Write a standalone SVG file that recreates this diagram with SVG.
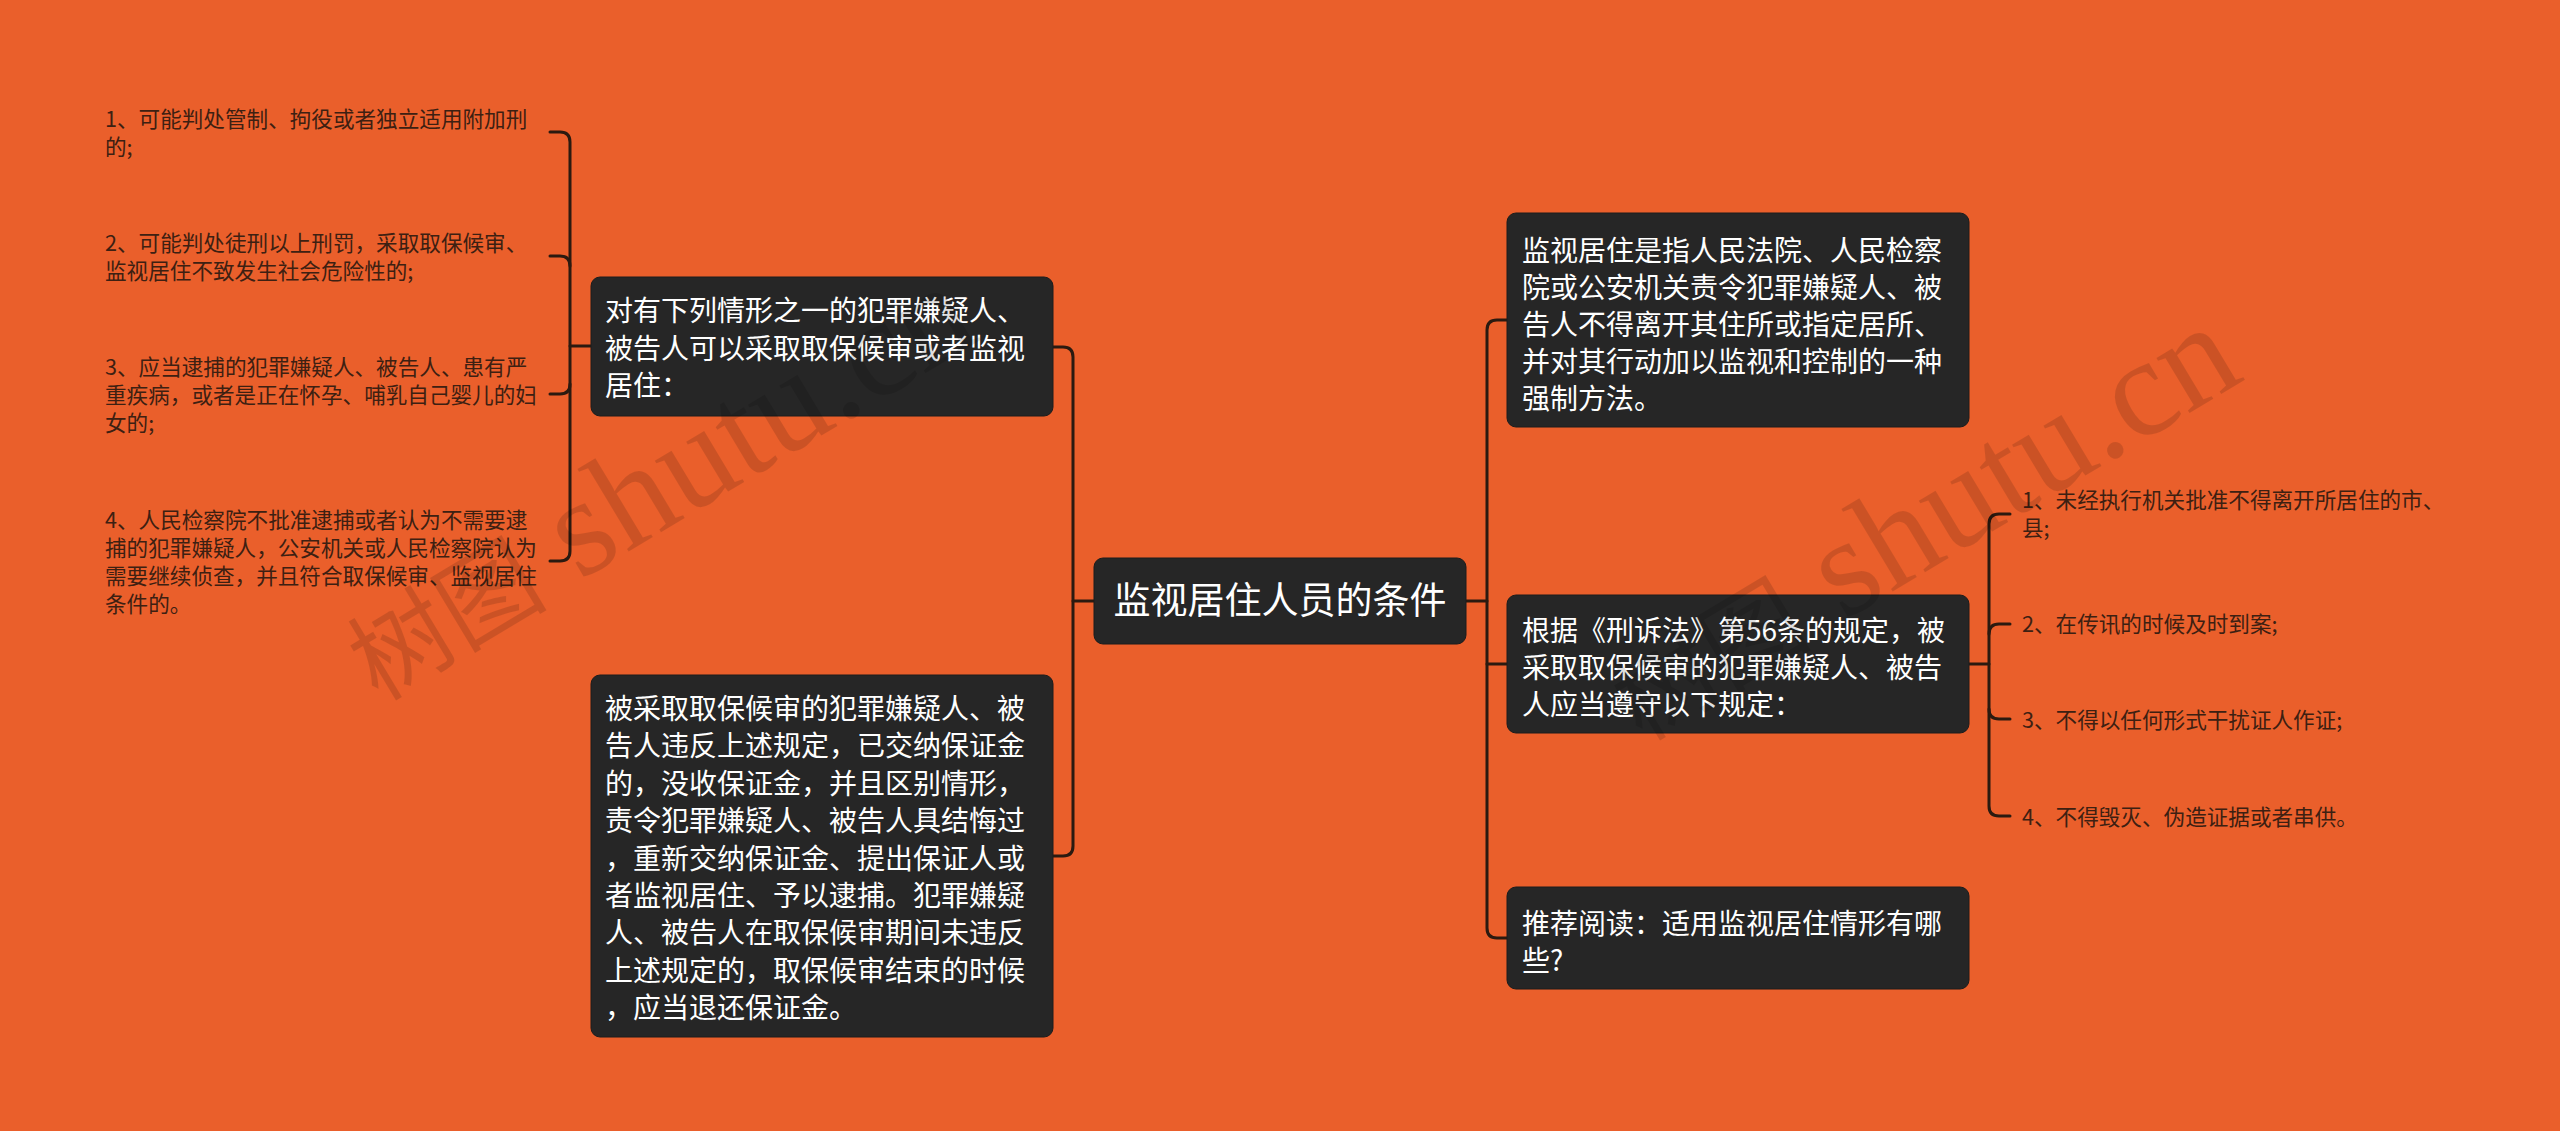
<svg xmlns="http://www.w3.org/2000/svg" width="2560" height="1131" viewBox="0 0 2560 1131">
<style>
.bg{fill:#EA5F2B}
.box{fill:#262626;stroke:#1c1c1c;stroke-width:1}
.nt{font-family:"Noto Sans CJK SC","Noto Sans",sans-serif;fill:#ffffff;font-size:28px}
.ct{font-family:"Noto Sans CJK SC","Noto Sans",sans-serif;fill:#ffffff;font-size:37px}
.lt{font-family:"Noto Sans CJK SC","Noto Sans",sans-serif;fill:#3d2012;font-size:21.6px}
.conn path{fill:none;stroke:#2b1a10;stroke-width:3;stroke-linecap:round}
.wm{font-family:"Liberation Serif","Noto Sans CJK SC",serif;fill:#000000;fill-opacity:0.13}
</style>
<rect class="bg" x="0" y="0" width="2560" height="1131"/>

<g id="connectors" class="conn">
  <path d="M1094,601 H1073"/>
  <path d="M1053,347 H1063 Q1073,347 1073,357 V846 Q1073,856 1063,856 H1053"/>
  <path d="M1466,601 H1487"/>
  <path d="M1507,320 H1497 Q1487,320 1487,330 V928 Q1487,938 1497,938 H1507"/>
  <path d="M1487,664 H1507"/>
  <path d="M591,346 H570"/>
  <path d="M550,132 H560 Q570,132 570,142 V551 Q570,561 560,561 H550"/>
  <path d="M550,256 H560 Q570,256 570,266"/>
  <path d="M550,394 H560 Q570,394 570,384"/>
  <path d="M1969,664 H1989"/>
  <path d="M2010,514 H1999 Q1989,514 1989,524 V806 Q1989,816 1999,816 H2010"/>
  <path d="M2010,624 H1999 Q1989,624 1989,634"/>
  <path d="M2010,719 H1999 Q1989,719 1989,709"/>
</g>

<g id="center">
  <rect class="box" x="1094" y="558" width="372" height="86" rx="9"/>
  <text class="ct" x="1280" y="614" text-anchor="middle">监视居住人员的条件</text>
</g>

<g id="left1">
  <rect class="box" x="591" y="277" width="462" height="139" rx="9"/>
  <text class="nt">
    <tspan x="605" y="321">对有下列情形之一的犯罪嫌疑人、</tspan>
    <tspan x="605" y="358.5">被告人可以采取取保候审或者监视</tspan>
    <tspan x="605" y="396">居住：</tspan>
  </text>
</g>

<g id="left2">
  <rect class="box" x="591" y="675" width="462" height="362" rx="9"/>
  <text class="nt">
    <tspan x="605" y="719">被采取取保候审的犯罪嫌疑人、被</tspan>
    <tspan x="605" y="756.4">告人违反上述规定，已交纳保证金</tspan>
    <tspan x="605" y="793.8">的，没收保证金，并且区别情形，</tspan>
    <tspan x="605" y="831.2">责令犯罪嫌疑人、被告人具结悔过</tspan>
    <tspan x="605" y="868.6">，重新交纳保证金、提出保证人或</tspan>
    <tspan x="605" y="906">者监视居住、予以逮捕。犯罪嫌疑</tspan>
    <tspan x="605" y="943.4">人、被告人在取保候审期间未违反</tspan>
    <tspan x="605" y="980.8">上述规定的，取保候审结束的时候</tspan>
    <tspan x="605" y="1018.2">，应当退还保证金。</tspan>
  </text>
</g>

<g id="leafL1">
  <text class="lt">
    <tspan x="105" y="127">1、可能判处管制、拘役或者独立适用附加刑</tspan>
    <tspan x="105" y="155">的;</tspan>
  </text>
</g>
<g id="leafL2">
  <text class="lt">
    <tspan x="105" y="251">2、可能判处徒刑以上刑罚，采取取保候审、</tspan>
    <tspan x="105" y="279">监视居住不致发生社会危险性的;</tspan>
  </text>
</g>
<g id="leafL3">
  <text class="lt">
    <tspan x="105" y="375">3、应当逮捕的犯罪嫌疑人、被告人、患有严</tspan>
    <tspan x="105" y="403">重疾病，或者是正在怀孕、哺乳自己婴儿的妇</tspan>
    <tspan x="105" y="431">女的;</tspan>
  </text>
</g>
<g id="leafL4">
  <text class="lt">
    <tspan x="105" y="528">4、人民检察院不批准逮捕或者认为不需要逮</tspan>
    <tspan x="105" y="556">捕的犯罪嫌疑人，公安机关或人民检察院认为</tspan>
    <tspan x="105" y="584">需要继续侦查，并且符合取保候审、监视居住</tspan>
    <tspan x="105" y="612">条件的。</tspan>
  </text>
</g>

<g id="right1">
  <rect class="box" x="1507" y="213" width="462" height="214" rx="9"/>
  <text class="nt">
    <tspan x="1522" y="261">监视居住是指人民法院、人民检察</tspan>
    <tspan x="1522" y="298">院或公安机关责令犯罪嫌疑人、被</tspan>
    <tspan x="1522" y="335">告人不得离开其住所或指定居所、</tspan>
    <tspan x="1522" y="372">并对其行动加以监视和控制的一种</tspan>
    <tspan x="1522" y="409">强制方法。</tspan>
  </text>
</g>

<g id="right2">
  <rect class="box" x="1507" y="595" width="462" height="138" rx="9"/>
  <text class="nt">
    <tspan x="1522" y="641">根据《刑诉法》第56条的规定，被</tspan>
    <tspan x="1522" y="678">采取取保候审的犯罪嫌疑人、被告</tspan>
    <tspan x="1522" y="715">人应当遵守以下规定：</tspan>
  </text>
</g>

<g id="right3">
  <rect class="box" x="1507" y="887" width="462" height="102" rx="9"/>
  <text class="nt">
    <tspan x="1522" y="933.6">推荐阅读：适用监视居住情形有哪</tspan>
    <tspan x="1522" y="970.6">些?</tspan>
  </text>
</g>

<g id="leafR1">
  <text class="lt">
    <tspan x="2022" y="508">1、未经执行机关批准不得离开所居住的市、</tspan>
    <tspan x="2022" y="536">县;</tspan>
  </text>
</g>
<g id="leafR2">
  <text class="lt"><tspan x="2022" y="632">2、在传讯的时候及时到案;</tspan></text>
</g>
<g id="leafR3">
  <text class="lt"><tspan x="2022" y="728">3、不得以任何形式干扰证人作证;</tspan></text>
</g>
<g id="leafR4">
  <text class="lt"><tspan x="2022" y="825">4、不得毁灭、伪造证据或者串供。</tspan></text>
</g>

<g id="watermarks">
  <text class="wm" transform="translate(378,702) rotate(-31)"><tspan font-size="100">树图</tspan><tspan font-size="140"> shutu.cn</tspan></text>
  <text class="wm" transform="translate(1642,742) rotate(-31)"><tspan font-size="100">树图</tspan><tspan font-size="140"> shutu.cn</tspan></text>
</g>
</svg>
